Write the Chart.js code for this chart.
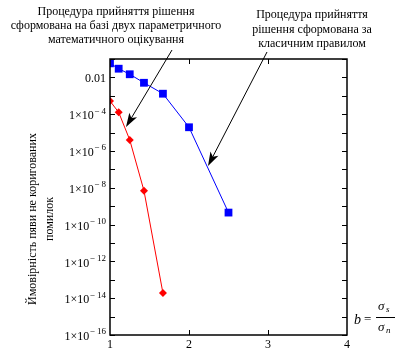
<!DOCTYPE html>
<html>
<head>
<meta charset="utf-8">
<script src="https://cdn.jsdelivr.net/npm/chart.js@4"></script>
<style>
  html, body { margin: 0; padding: 0; background: #fff; }
  canvas { display: block; }
</style>
</head>
<body>
<canvas id="chart" width="399" height="357"></canvas>
<script>
// ---- дані ----
const xValues = [1, 1.11, 1.25, 1.43, 1.67, 2, 2.5];
const classicValues = [0.058, 0.0297, 0.0148, 0.0051, 0.0013, 1.95e-5, 4.5e-10];
const paramX = [1, 1.11, 1.25, 1.43, 1.67];
const paramValues = [5.2e-4, 1.26e-4, 4e-6, 6.9e-9, 1.9e-14];
const yTickExponents = [-16, -15, -14, -13, -12, -11, -10, -9, -8, -7, -6, -5, -4, -3, -2, -1];
const yLabelExponents = [-16, -14, -12, -10, -8, -6, -4, -2];
const xTickValues = [1, 2, 3, 4];

const noteLeft = ['Процедура прийняття рішення', 'сформована на базі двух параметричного', 'математичного оцікування'];
const noteRight = ['Процедура прийняття', 'рішення сформована за', 'класичним правилом'];
const yTitle = ['Ймовірність пяви не коригованих', 'помилок'];

const SERIF = '"Liberation Serif", "DejaVu Serif", serif';

function arrow(ctx, x1, y1, x2, y2) {
  const a = Math.atan2(y2 - y1, x2 - x1);
  const len = 14, hw = 4.5;
  ctx.beginPath();
  ctx.moveTo(x1, y1);
  ctx.lineTo(x2 - Math.cos(a) * len * 0.7, y2 - Math.sin(a) * len * 0.7);
  ctx.stroke();
  ctx.beginPath();
  ctx.moveTo(x2, y2);
  ctx.lineTo(x2 - Math.cos(a) * len - Math.sin(a) * hw, y2 - Math.sin(a) * len + Math.cos(a) * hw);
  ctx.lineTo(x2 - Math.cos(a) * len * 0.75, y2 - Math.sin(a) * len * 0.75);
  ctx.lineTo(x2 - Math.cos(a) * len + Math.sin(a) * hw, y2 - Math.sin(a) * len - Math.cos(a) * hw);
  ctx.closePath();
  ctx.fill();
}

// рамка, поділки, підписи
const framePlugin = {
  id: 'frame',
  beforeDraw(chart) {
    const ctx = chart.ctx;
    ctx.save();
    ctx.fillStyle = '#fff';
    ctx.fillRect(0, 0, chart.width, chart.height);
    ctx.restore();
  },
  afterDraw(chart) {
    const ctx = chart.ctx;
    const a = chart.chartArea;
    const xs = chart.scales.x, ys = chart.scales.y;
    ctx.save();
    ctx.strokeStyle = '#000';
    ctx.fillStyle = '#000';
    ctx.lineWidth = 1.5;
    ctx.strokeRect(a.left, a.top, a.right - a.left, a.bottom - a.top);

    ctx.lineWidth = 1;
    ctx.beginPath();
    yTickExponents.forEach(e => {
      const y = Math.round(ys.getPixelForValue(Math.pow(10, e))) + 0.5;
      ctx.moveTo(a.left, y); ctx.lineTo(a.left + 5, y);
      ctx.moveTo(a.right, y); ctx.lineTo(a.right - 5, y);
    });
    xTickValues.slice(1, -1).forEach(v => {
      const x = Math.round(xs.getPixelForValue(v)) + 0.5;
      ctx.moveTo(x, a.top); ctx.lineTo(x, a.top + 5);
      ctx.moveTo(x, a.bottom); ctx.lineTo(x, a.bottom - 5);
    });
    ctx.stroke();

    // підписи осі x
    ctx.font = '12px ' + SERIF;
    ctx.textAlign = 'center';
    ctx.textBaseline = 'middle';
    xTickValues.forEach(v => ctx.fillText(String(v), xs.getPixelForValue(v), a.bottom + 10));

    // підписи осі y
    yLabelExponents.forEach(e => {
      const y = ys.getPixelForValue(Math.pow(10, e));
      const right = a.left - 4;
      ctx.textAlign = 'right';
      if (e === -2) {
        ctx.font = '12px ' + SERIF;
        ctx.fillText('0.01', right, y + 1);
        return;
      }
      ctx.font = '9px ' + SERIF;
      const exp = '\u2212 ' + (-e);
      const w = ctx.measureText(exp).width;
      ctx.fillText(exp, right, y - 3);
      ctx.font = '12px ' + SERIF;
      ctx.fillText('1\u00d710', right - w - 0.5, y + 2);
    });

    // примітки
    ctx.font = '12px ' + SERIF;
    ctx.textAlign = 'center';
    noteLeft.forEach((t, i) => ctx.fillText(t, 116, 12 + i * 14));
    noteRight.forEach((t, i) => ctx.fillText(t, 312, 15 + i * 14.5));

    // стрілки
    ctx.lineWidth = 1;
    arrow(ctx, 172, 50, 126, 127);
    arrow(ctx, 267, 52, 208, 166);

    // назва осі y
    ctx.save();
    ctx.translate(33, 219);
    ctx.rotate(-Math.PI / 2);
    ctx.fillText(yTitle[0], 0, 0);
    ctx.fillText(yTitle[1], 0, 17);
    ctx.restore();

    // b = σs / σn
    ctx.font = 'italic 14px ' + SERIF;
    ctx.textAlign = 'left';
    ctx.fillText('b', 354, 320);
    ctx.font = '13px ' + SERIF;
    ctx.fillText('=', 364, 320);
    ctx.font = 'italic 13px ' + SERIF;
    ctx.fillText('\u03c3', 378, 307);
    ctx.fillText('\u03c3', 378, 328);
    ctx.font = 'italic 9px ' + SERIF;
    ctx.fillText('s', 386, 310);
    ctx.fillText('n', 386, 331);
    ctx.beginPath();
    ctx.moveTo(376, 317.5); ctx.lineTo(395, 317.5);
    ctx.stroke();
    ctx.restore();
  }
};

new Chart(document.getElementById('chart'), {
  type: 'line',
  data: {
    datasets: [
      {
        data: xValues.map((x, i) => ({ x: x, y: classicValues[i] })),
        borderColor: '#0000ff',
        backgroundColor: '#0000ff',
        borderWidth: 1,
        pointStyle: 'rect',
        pointRadius: 5.5,
        pointBorderWidth: 0
      },
      {
        data: paramX.map((x, i) => ({ x: x, y: paramValues[i] })),
        borderColor: '#ff0000',
        backgroundColor: '#ff0000',
        borderWidth: 1,
        pointStyle: 'rectRot',
        pointRadius: 4,
        pointBorderWidth: 0
      }
    ]
  },
  options: {
    responsive: false,
    animation: false,
    devicePixelRatio: 1,
    layout: { padding: { left: 110, right: 52, top: 59, bottom: 22 } },
    plugins: { legend: { display: false }, tooltip: { enabled: false } },
    scales: {
      x: { type: 'linear', min: 1, max: 4, display: false },
      y: { type: 'logarithmic', min: 1e-16, max: 0.1, display: false }
    }
  },
  plugins: [framePlugin]
});
</script>
</body>
</html>
